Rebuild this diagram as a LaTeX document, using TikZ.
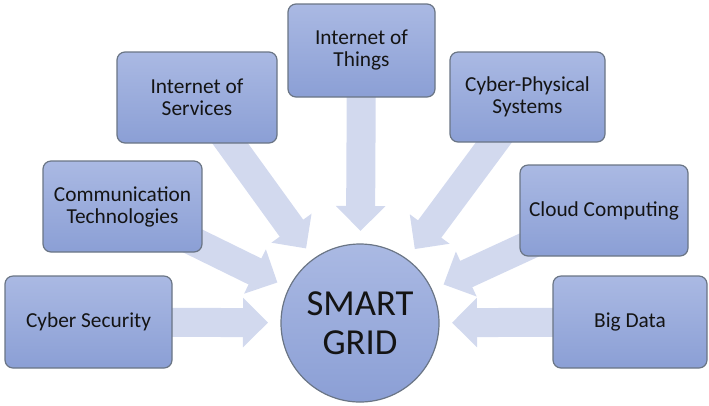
\documentclass[tikz,border=0pt]{standalone}
\usepackage{fontspec}
\setmainfont{Carlito}
\usetikzlibrary{arrows.meta,calc}
\pgfdeclarelayer{background}
\pgfsetlayers{background,main}
\definecolor{boxtop}{HTML}{AAB9E3}
\definecolor{boxbot}{HTML}{8B9FD5}
\definecolor{boxedge}{HTML}{6A7585}
\definecolor{arrowc}{HTML}{D2D9EE}
\definecolor{txt}{HTML}{141414}
\begin{document}
\begin{tikzpicture}[x=0.75pt,y=-0.75pt,
  box/.style={draw=boxedge, line width=0.9pt, rounded corners=6pt,
    top color=boxtop, bottom color=boxbot, align=center, text=txt,
    font=\fontsize{16}{16.5}\selectfont, inner sep=0pt},
  hub/.style={circle, draw=boxedge, line width=0.9pt,
    top color=boxtop, bottom color=boxbot, align=center, text=txt,
    minimum size=118.5pt, inner sep=0pt,
    font=\fontsize{27.5}{29}\selectfont},
  flow/.style={draw=arrowc, fill=arrowc, line width=21.75pt,
    -{Triangle[width=36pt,length=18.75pt]}}]
\useasboundingbox (0,0) rectangle (709,405);
\node[hub] (g) at (360,323) {SMART\\GRID};
\node[box, minimum width=125.25pt, minimum height=69pt] (cs) at (88.5,322) {Cyber Security};
\node[box, minimum width=119.25pt, minimum height=68.25pt] (ct) at (122.5,206.5) {Communication\\Technologies};
\node[box, minimum width=120pt, minimum height=68.25pt] (is) at (197,97.5) {Internet of\\Services};
\node[box, minimum width=110.25pt, minimum height=69.75pt] (it) at (361.5,50.5) {Internet of\\Things};
\node[box, minimum width=116.25pt, minimum height=67.5pt] (cp) at (527.5,97) {Cyber-Physical\\Systems};
\node[box, minimum width=126pt, minimum height=68.25pt] (cc) at (604,210.5) {Cloud Computing};
\node[box, minimum width=115.5pt, minimum height=69pt] (bd) at (630,322) {Big Data};
\begin{pgfonlayer}{background}
\foreach \b in {cs,ct,is,it,cp,cc,bd}{
  \draw[flow] (\b.center) -- ($(g.center)!69pt!(\b.center)$);
}
\end{pgfonlayer}
\end{tikzpicture}
\end{document}
